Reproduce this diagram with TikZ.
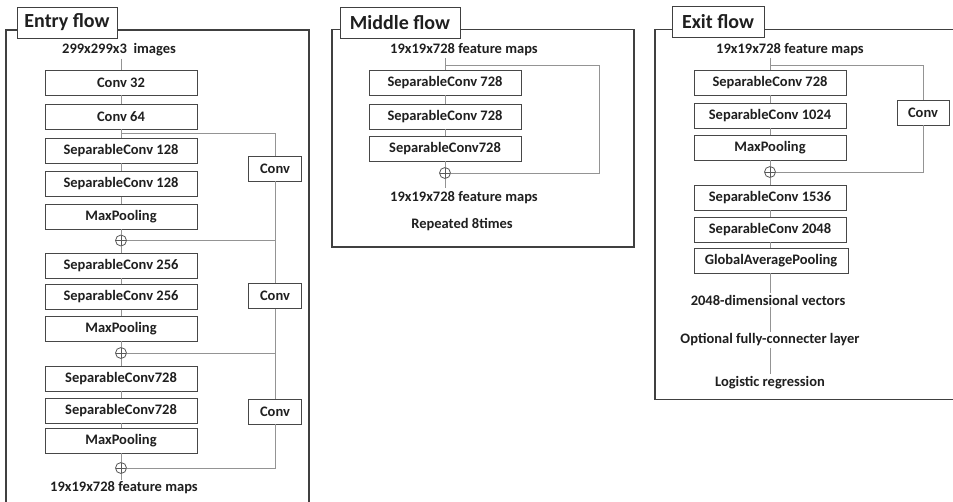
\documentclass[tikz,border=0pt]{standalone}
\usepackage{fontspec}
\setmainfont{Carlito}
\begin{document}
\begin{tikzpicture}[x=1pt,y=-1pt,
  every node/.style={font=\bfseries\fontsize{14.5}{16}\selectfont, text=black!88},
  layer/.style={draw=black!72, line width=0.9pt, fill=white, minimum width=152pt, minimum height=25pt, inner sep=0pt},
  convbox/.style={layer, minimum width=53pt},
  caption/.style={inner sep=2pt},
  flowframe/.style={draw=black!75, line width=1.4pt},
  flowtitle/.style={draw=black!75, line width=1pt, fill=white, inner sep=0pt, minimum height=31pt,
    font=\bfseries\fontsize{20}{22}\selectfont},
  wire/.style={draw=black!42, line width=0.7pt},
  sum/.style={circle, draw=black!65, line width=0.8pt, minimum size=11pt, inner sep=0pt, fill=white,
    path picture={\draw[black!65, line width=0.8pt]
      (path picture bounding box.north) -- (path picture bounding box.south)
      (path picture bounding box.west) -- (path picture bounding box.east);}}
]
\clip (0,0) rectangle (953,501);
\fill[white] (0,0) rectangle (953,501);

% ---------------- frames ----------------
\draw[flowframe] (6,30) rectangle (309,520);
\draw[flowframe] (332,29.5) rectangle (634,247);
\draw[flowframe] (655,29.5) rectangle (970,399.5);

% ---------------- Entry flow ----------------
\node[flowtitle, minimum width=100pt] (tEntry) at (67,22.5) {Entry flow};
\node[caption] (eIn) at (119,50) {299x299x3\ \ images};
\node[layer] (c32)  at (121,82.5)  {Conv 32};
\node[layer] (c64)  at (121,116.5) {Conv 64};
\node[layer] (s128a) at (121,150.5) {SeparableConv 128};
\node[layer] (s128b) at (121,184)   {SeparableConv 128};
\node[layer] (mp1)  at (121,216.5) {MaxPooling};
\node[sum]   (sum1) at (121,240.5) {};
\node[layer] (s256a) at (121,265.5) {SeparableConv 256};
\node[layer] (s256b) at (121,297)   {SeparableConv 256};
\node[layer] (mp2)  at (121,328.5) {MaxPooling};
\node[sum]   (sum2) at (121,353) {};
\node[layer] (s728a) at (121,378.5) {SeparableConv728};
\node[layer] (s728b) at (121,410.5) {SeparableConv728};
\node[layer] (mp3)  at (121,440.5) {MaxPooling};
\node[sum]   (sum3) at (121,468) {};
\node[caption] (eOut) at (124,488) {19x19x728 feature maps};

\node[convbox] (cv1) at (275,168.5) {Conv};
\node[convbox] (cv2) at (275,296)   {Conv};
\node[convbox] (cv3) at (275,411.5) {Conv};

% main path and residual branch
\draw[wire] (eIn.south -| c32.north) -- (c32) -- (c64) -- (s128a) -- (s128b) -- (mp1)
  -- (sum1.north) (sum1.south) -- (s256a) -- (s256b) -- (mp2)
  -- (sum2.north) (sum2.south) -- (s728a) -- (s728b) -- (mp3)
  -- (sum3.north) (sum3.south) -- (eOut.north -| sum3.south);
\coordinate (eb) at (121,133);
\draw[wire] (eb) -| (cv1);
\draw[wire] (cv1) |- (sum1);
\draw[wire] (cv1) -- (cv2);
\draw[wire] (cv2) |- (sum2);
\draw[wire] (cv2) -- (cv3);
\draw[wire] (cv3) |- (sum3);

% ---------------- Middle flow ----------------
\node[flowtitle, minimum width=120pt] (tMid) at (400,22.5) {Middle flow};
\node[caption] (mIn) at (464,50) {19x19x728 feature maps};
\node[layer] (ms1) at (445,82.5)  {SeparableConv 728};
\node[layer] (ms2) at (445,116.5) {SeparableConv 728};
\node[layer] (ms3) at (445,148.5) {SeparableConv728};
\node[sum]   (msum) at (445,173) {};
\node[caption] (mOut) at (464,198) {19x19x728 feature maps};
\node[caption] (mRep) at (462,225) {Repeated 8times};

\draw[wire] (mIn.south -| ms1.north) -- (ms1) -- (ms2) -- (ms3) -- (msum.north)
  (msum.south) -- ++(0,9);
\coordinate (mb) at (445,65);
\coordinate (mr) at (599,65);
\draw[wire] (mb) -- (mr) |- (msum);

% ---------------- Exit flow ----------------
\node[flowtitle, minimum width=92pt] (tExit) at (718,22) {Exit flow};
\node[caption] (xIn) at (790,50) {19x19x728 feature maps};
\node[layer] (xs1) at (770,82.5)  {SeparableConv 728};
\node[layer] (xs2) at (770,115.5) {SeparableConv 1024};
\node[layer] (xmp) at (770,147.5) {MaxPooling};
\node[sum]   (xsum) at (770,172) {};
\node[layer] (xs3) at (770,197.5) {SeparableConv 1536};
\node[layer] (xs4) at (770,229.5) {SeparableConv 2048};
\node[layer, minimum width=154pt] (xgap) at (771,260.5) {GlobalAveragePooling};
\node[caption] (xVec) at (768,300) {2048-dimensional vectors};
\node[caption] (xFc)  at (770,340) {Optional fully-connecter layer};
\node[caption] (xLog) at (770,383) {Logistic regression};
\node[convbox, minimum width=52pt] (xcv) at (923,112.5) {Conv};

\draw[wire] (xIn.south -| xs1.north) -- (xs1) -- (xs2) -- (xmp) -- (xsum.north)
  (xsum.south) -- (xs3) -- (xs4) -- (xgap.north -| xs4.south);
\draw[wire] (xgap.south -| xs4.south) -- (xVec.north -| xs4.south);
\draw[wire] (xVec.south -| xs4.south) -- (xFc.north -| xs4.south);
\draw[wire] (xFc.south -| xs4.south) -- (xLog.north -| xs4.south);
\coordinate (xb) at (770,65);
\draw[wire] (xb) -| (xcv);
\draw[wire] (xcv) |- (xsum);
\end{tikzpicture}
\end{document}
